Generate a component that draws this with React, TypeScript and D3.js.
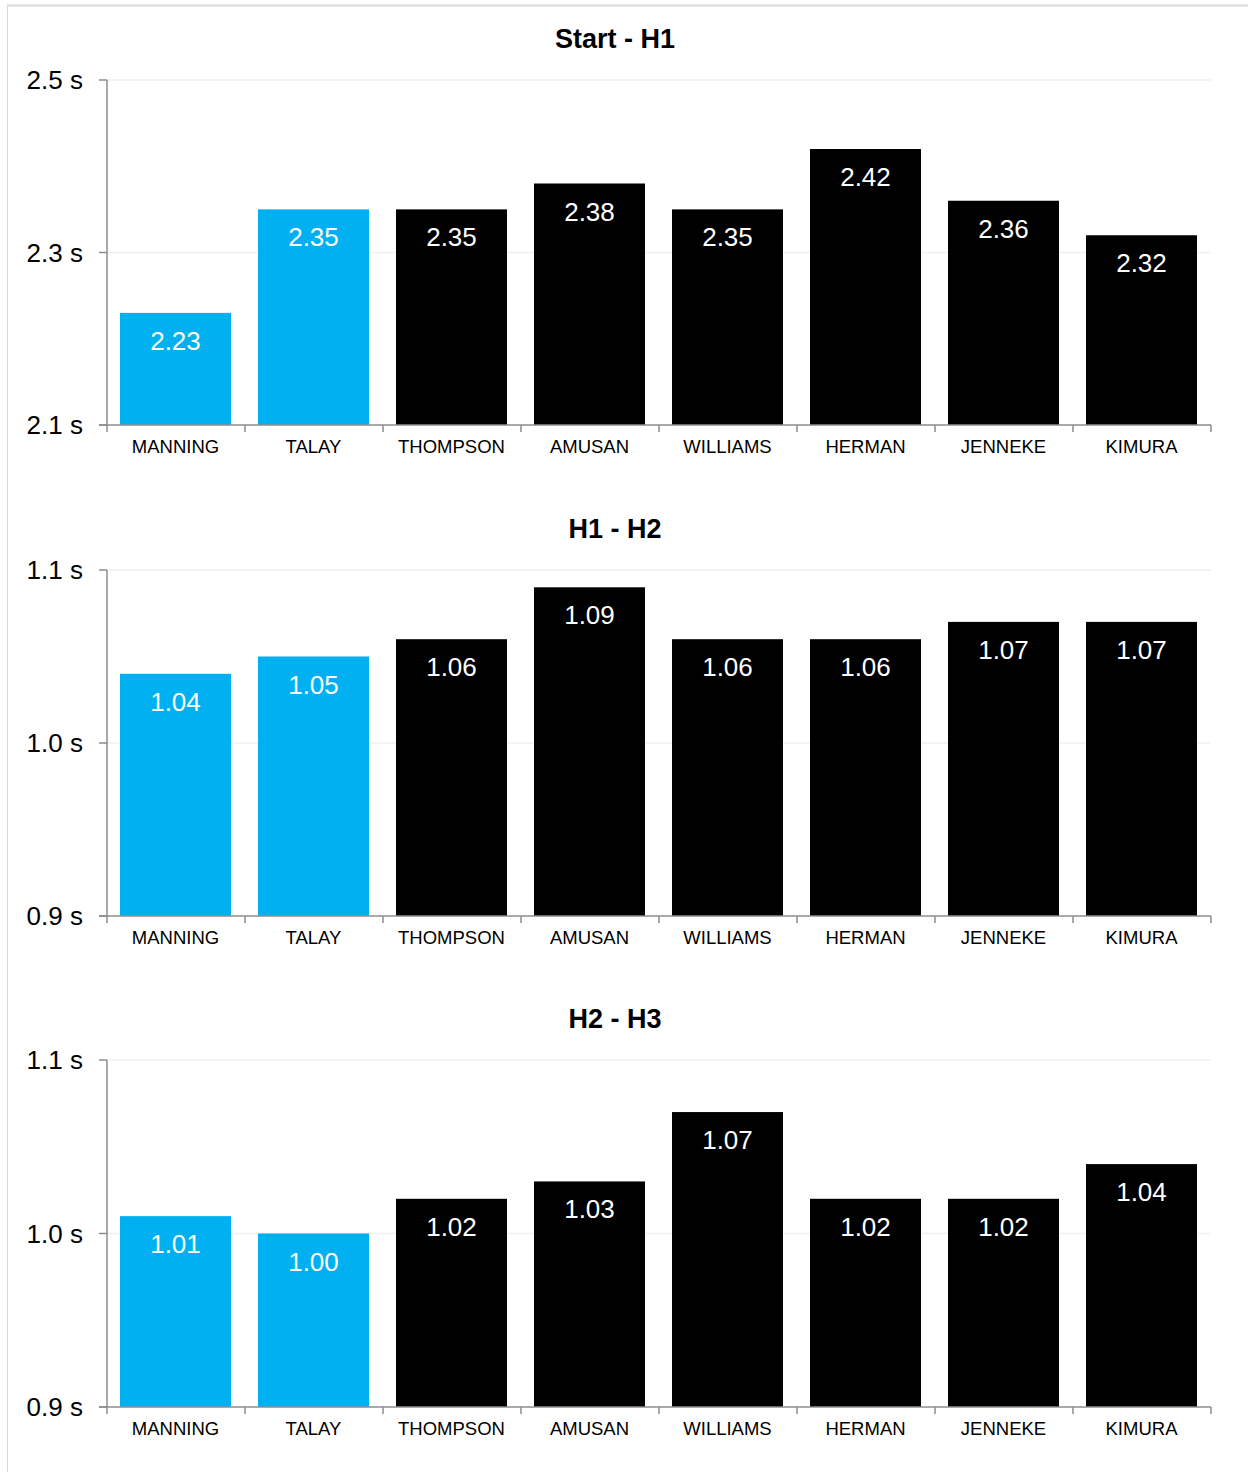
import React from "react";
import * as d3 from "d3";

const athletes = ["MANNING", "TALAY", "THOMPSON", "AMUSAN", "WILLIAMS", "HERMAN", "JENNEKE", "KIMURA"];
const highlighted = ["MANNING", "TALAY"];
const panelTitles = ["Start - H1", "H1 - H2", "H2 - H3"];
const startH1 = [2.23, 2.35, 2.35, 2.38, 2.35, 2.42, 2.36, 2.32];
const h1H2 = [1.04, 1.05, 1.06, 1.09, 1.06, 1.06, 1.07, 1.07];
const h2H3 = [1.01, 1.0, 1.02, 1.03, 1.07, 1.02, 1.02, 1.04];
const domains: [number, number][] = [[2.1, 2.5], [0.9, 1.1], [0.9, 1.1]];
const tickValues = [[2.1, 2.3, 2.5], [0.9, 1.0, 1.1], [0.9, 1.0, 1.1]];
const seriesList = [startH1, h1H2, h2H3];

const W = 1248;
const H = 1472;
const FONT = "'Liberation Sans', Arial, Helvetica, sans-serif";
const BLUE = "#00B0F0";
const AXIS = "#8c8c8c";
const GRID = "#efefef";

const plotLeft = 107;
const plotRight = 1211;
const plotTops = [80, 570, 1060];
const plotBottoms = [425, 916, 1407];

function Panel({ idx }: { idx: number }) {
  const values = seriesList[idx];
  const top = plotTops[idx];
  const bottom = plotBottoms[idx];
  const x = d3.scaleBand<string>().domain(athletes).range([plotLeft, plotRight]).paddingInner(0.2).paddingOuter(0.1);
  const y = d3.scaleLinear().domain(domains[idx]).range([bottom, top]);
  const boundaries = d3.range(athletes.length + 1).map((i) => plotLeft + i * (plotRight - plotLeft) / athletes.length);
  const ticks = tickValues[idx];
  return (
    <g>
      <text x={615} y={top - 32} textAnchor="middle" fontFamily={FONT} fontWeight="bold" fontSize={27} fill="#000">
        {panelTitles[idx]}
      </text>
      {ticks.slice(1).map((t) => (
        <line key={"g" + t} x1={plotLeft} x2={plotRight} y1={y(t)} y2={y(t)} stroke={GRID} strokeWidth={1.5} />
      ))}
      {athletes.map((a, i) => {
        const v = values[i];
        const bx = Math.floor(x(a) as number);
        const bw = Math.round(x.bandwidth()) + 1;
        return (
          <g key={a}>
            <rect x={bx} y={y(v)} width={bw} height={bottom - y(v)} fill={highlighted.includes(a) ? BLUE : "#000"} />
            <text x={bx + bw / 2} y={y(v) + 37} textAnchor="middle" fontFamily={FONT} fontSize={26} fill="#fff">
              {v.toFixed(2)}
            </text>
            <text x={bx + bw / 2} y={bottom + 28} textAnchor="middle" fontFamily={FONT} fontSize={18.5} fill="#000">
              {a}
            </text>
          </g>
        );
      })}
      <line x1={plotLeft} x2={plotLeft} y1={top} y2={bottom} stroke={AXIS} strokeWidth={1.5} />
      {ticks.map((t) => (
        <g key={"t" + t}>
          <line x1={plotLeft - 8} x2={plotLeft} y1={y(t)} y2={y(t)} stroke={AXIS} strokeWidth={1.5} />
          <text x={83} y={y(t)} dy="0.36em" textAnchor="end" fontFamily={FONT} fontSize={26} fill="#000">
            {t.toFixed(1)} s
          </text>
        </g>
      ))}
      <line x1={plotLeft - 8} x2={plotRight} y1={bottom} y2={bottom} stroke={AXIS} strokeWidth={1.5} />
      {boundaries.map((bx, i) => (
        <line key={"b" + i} x1={bx} x2={bx} y1={bottom} y2={bottom + 7} stroke={AXIS} strokeWidth={1.5} />
      ))}
    </g>
  );
}

export default function App() {
  return (
    <svg width={W} height={H} style={{ position: "absolute", left: 0, top: 0, background: "#fff" }}>
      <rect x={0} y={0} width={W} height={H} fill="#fff" />
      <line x1={7} x2={W} y1={5.5} y2={5.5} stroke="#d9d9d9" strokeWidth={2} />
      <line x1={7.5} x2={7.5} y1={5} y2={H} stroke="#d9d9d9" strokeWidth={1} />
      {[0, 1, 2].map((i) => (
        <Panel key={i} idx={i} />
      ))}
    </svg>
  );
}
